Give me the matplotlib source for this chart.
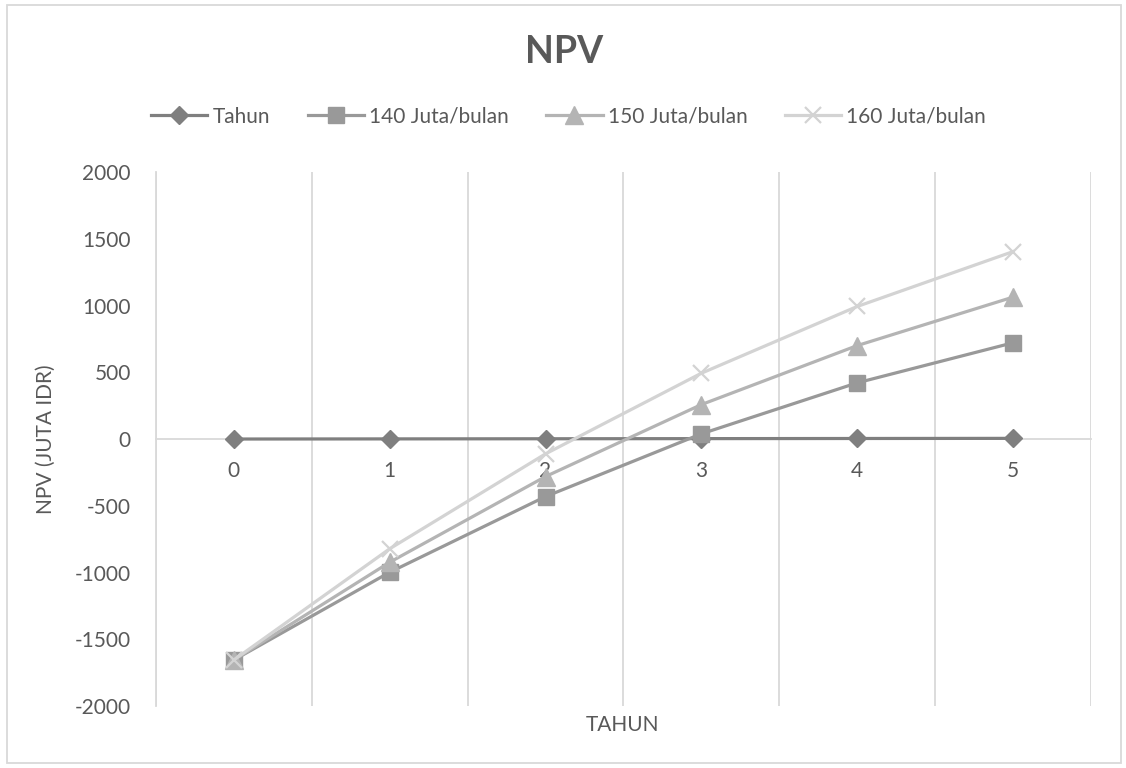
import numpy as np
import matplotlib
matplotlib.use("Agg")
import matplotlib.pyplot as plt
from matplotlib.patches import Rectangle

plt.rcParams['font.family'] = ['Lato', 'DejaVu Sans']
plt.rcParams['axes.unicode_minus'] = False

# data NPV (juta IDR) per tahun
tahun = [0, 1, 2, 3, 4, 5]
tahun_labels = ["0", "1", "2", "3", "4", "5"]
npv_140 = [-1655, -998, -431, 39, 421, 721]
npv_150 = [-1655, -923, -281, 258, 700, 1063]
npv_160 = [-1655, -822, -111, 493, 993, 1404]

text_color = "#595959"
grid_color = "#d9d9d9"

fig = plt.figure(figsize=(11.26, 7.68), dpi=100)
ax = fig.add_axes([0.1385, 0.0807, 0.8304, 0.6953])

x = np.arange(len(tahun))
ax.plot(x, tahun, color="#7f7f7f", lw=2.3, marker="D", ms=8.7, label="Tahun", zorder=3)
ax.plot(x, npv_140, color="#999999", lw=2.3, marker="s", ms=12, label="140 Juta/bulan", zorder=4)
ax.plot(x, npv_150, color="#b4b4b4", lw=2.3, marker="^", ms=12.5, label="150 Juta/bulan", zorder=5)
ax.plot(x, npv_160, color="#d3d3d3", lw=2.3, marker="x", ms=11, mew=1.6, label="160 Juta/bulan", zorder=6)

ax.set_xlim(-0.5, len(tahun) - 0.5)
ax.set_ylim(-2000, 2000)
ax.set_yticks(np.arange(-2000, 2001, 500))

# category labels centred, gridlines on category boundaries
ax.set_xticks(x)
ax.set_xticklabels(tahun_labels)
ax.set_xticks(np.arange(-0.5, len(tahun)), minor=True)
ax.grid(which="minor", axis="x", color=grid_color, lw=1.3)
ax.tick_params(axis="x", which="both", length=0, pad=16, labelsize=15, labelcolor=text_color)
ax.tick_params(axis="y", length=0, pad=18, labelsize=15, labelcolor=text_color)

ax.spines["bottom"].set_position(("data", 0))
ax.spines["bottom"].set_color(grid_color)
ax.spines["bottom"].set_linewidth(1.3)
ax.spines["left"].set_color(grid_color)
ax.spines["left"].set_linewidth(1.3)
ax.spines["top"].set_visible(False)
ax.spines["right"].set_visible(False)

ax.set_ylabel("NPV (JUTA IDR)", fontsize=15, color=text_color, labelpad=14)
fig.text(0.553, 0.056, "TAHUN", fontsize=15, color=text_color, ha="center", va="center")

fig.text(0.501, 0.932, "NPV", fontsize=27, fontweight="bold", color=text_color,
         ha="center", va="center")

fig.legend(loc="center", bbox_to_anchor=(0.505, 0.848), ncol=4, frameon=False,
           fontsize=15, labelcolor=text_color, handlelength=2.7,
           handletextpad=0.25, columnspacing=1.8)

# chart area border
fig.patches.append(Rectangle((7 / 1126, 1 - 763 / 768), 1114 / 1126, 758 / 768,
                             transform=fig.transFigure, fill=False,
                             edgecolor=grid_color, lw=1.3))

fig.savefig("out.png", dpi=100)
